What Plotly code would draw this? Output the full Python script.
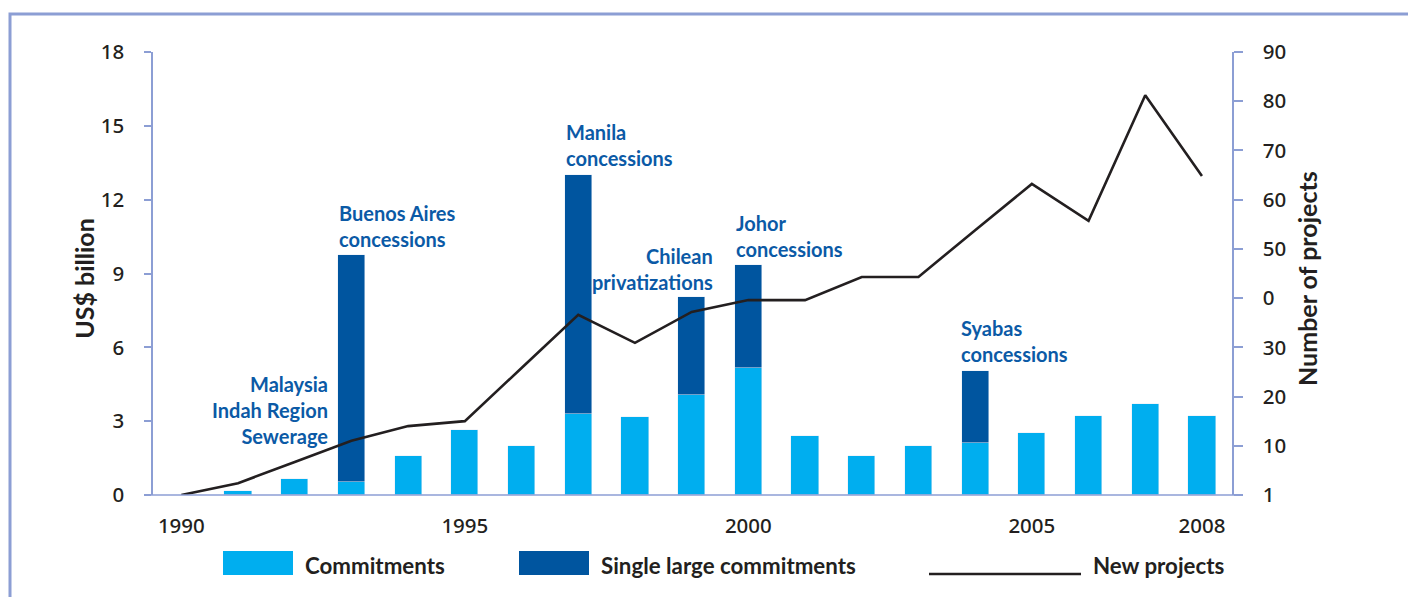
import plotly.graph_objects as go

# ---- data ----
bar_years = list(range(1991, 2009))
commitments = [0.15, 0.65, 0.53, 1.58, 2.64, 1.99, 3.29, 3.17, 4.06, 5.16,
               2.40, 1.58, 2.00, 2.11, 2.52, 3.21, 3.70, 3.21]
large_years = [1993, 1997, 1999, 2000, 2004]
large_commitments = [9.22, 9.71, 3.99, 4.19, 2.93]  # stacked on top of commitments

line_years = list(range(1990, 2009))
new_projects = [0, 2.4, 6.7, 11.0, 14.0, 15.0, 25.8, 36.6, 30.9, 37.2, 39.6,
                39.6, 44.3, 44.3, 53.8, 63.2, 55.7, 81.2, 64.8]

left_ticks = [0, 3, 6, 9, 12, 15, 18]
right_tickvals = [0, 10, 20, 30, 40, 50, 60, 70, 80, 90]
right_ticktext = ["1", "10", "20", "30", "0", "50", "60", "70", "80", "90"]
x_ticks = [1990, 1995, 2000, 2005, 2008]

notes = [
    ("Malaysia<br>Indah Region<br>Sewerage", 1992.62, 3.45, "right"),
    ("Buenos Aires<br>concessions", 1992.75, 10.93, "left"),
    ("Manila<br>concessions", 1996.75, 14.22, "left"),
    ("Chilean<br>privatizations", 1999.41, 9.18, "right"),
    ("Johor<br>concessions", 1999.74, 10.52, "left"),
    ("Syabas<br>concessions", 2003.72, 6.26, "left"),
]

LIGHT = "#00AEEF"
DARK = "#00559F"
TXTBLUE = "#0B5AA6"
AXIS = "#8C9ED4"
INK = "#231F20"
FONT = "Lato"
TICKFONT = dict(family="Noto Sans", size=20.5, color=INK, weight=500)

fig = go.Figure()

fig.add_trace(go.Bar(x=bar_years, y=commitments, marker_color=LIGHT,
                     width=0.48, name="Commitments"))
fig.add_trace(go.Bar(x=large_years, y=large_commitments, marker_color=DARK,
                     width=0.48, name="Single large commitments"))
fig.add_trace(go.Scatter(x=line_years, y=new_projects, mode="lines", yaxis="y2",
                         line=dict(color=INK, width=2.6), name="New projects"))

for txt, x, y, side in notes:
    fig.add_annotation(text=txt, x=x, y=y, xref="x", yref="y", showarrow=False,
                       xanchor=side, yanchor="middle", align=side,
                       font=dict(family=FONT, size=20, color=TXTBLUE, weight="bold"))

# axis titles
fig.add_annotation(text="US$ billion", x=-0.064, y=0.49, xref="paper", yref="paper",
                   textangle=-90, showarrow=False, xanchor="center", yanchor="middle",
                   font=dict(family=FONT, size=25, color=INK, weight="bold"))
fig.add_annotation(text="Number of projects", x=1.0695, y=0.49, xref="paper", yref="paper",
                   textangle=-90, showarrow=False, xanchor="center", yanchor="middle",
                   font=dict(family=FONT, size=25, color=INK, weight="bold"))

# manual legend (positions given in screen pixels, mapped to paper)
def px_x(p):
    return (p - 153) / 1079

def px_y(p):
    return (495 - p) / 443

fig.add_shape(type="rect", xref="paper", yref="paper", x0=px_x(223), x1=px_x(293),
              y0=px_y(575), y1=px_y(551), fillcolor=LIGHT, line_width=0)
fig.add_shape(type="rect", xref="paper", yref="paper", x0=px_x(519), x1=px_x(589),
              y0=px_y(575), y1=px_y(551), fillcolor=DARK, line_width=0)
fig.add_shape(type="line", xref="paper", yref="paper", x0=px_x(929), x1=px_x(1081),
              y0=px_y(574), y1=px_y(574), line=dict(color=INK, width=2.6))
for txt, p in [("Commitments", 303), ("Single large commitments", 599), ("New projects", 1091)]:
    fig.add_annotation(text=txt, x=px_x(p), y=px_y(565), xref="paper", yref="paper",
                       showarrow=False, xanchor="left", yanchor="middle",
                       font=dict(family=FONT, size=22.3, color=INK, weight="bold"))

# x axis line extended past both axes, and outer frame
fig.add_shape(type="line", xref="paper", yref="paper", x0=px_x(146), x1=px_x(1241),
              y0=0, y1=0, line=dict(color=AXIS, width=1.5))
fig.add_shape(type="rect", xref="paper", yref="paper", x0=px_x(10), x1=px_x(1411),
              y0=-0.5, y1=px_y(14), line=dict(color=AXIS, width=3), layer="below")

# page body has an 8px margin, so the figure is 8px smaller and margins shifted
fig.update_layout(
    width=1408, height=589,
    margin=dict(l=145, r=184, t=44, b=102),
    barmode="stack",
    bargap=0,
    showlegend=False,
    plot_bgcolor="white",
    paper_bgcolor="white",
    font=dict(family=FONT, size=20, color=INK),
    xaxis=dict(range=[1989.5, 2008.53], tickvals=x_ticks, showgrid=False,
               showline=False, zeroline=False, ticks="", ticklabelstandoff=16,
               tickfont=TICKFONT),
    yaxis=dict(range=[0, 18], tickvals=left_ticks, showgrid=False, zeroline=False,
               showline=True, linecolor=AXIS, linewidth=1.5, ticks="outside",
               ticklen=7, tickcolor=AXIS, tickwidth=1.5, ticklabelstandoff=16,
               tickfont=TICKFONT),
    yaxis2=dict(range=[0, 90], tickvals=right_tickvals, ticktext=right_ticktext,
                overlaying="y", side="right", showgrid=False, zeroline=False,
                showline=True, linecolor=AXIS, linewidth=1.5, ticks="outside",
                ticklen=9, tickcolor=AXIS, tickwidth=1.5, ticklabelstandoff=16,
                tickfont=TICKFONT),
)

fig.write_html("out.html")
